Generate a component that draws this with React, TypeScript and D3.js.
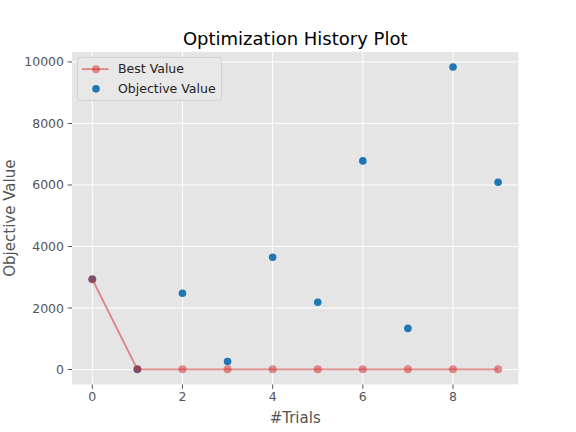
import { useEffect, useRef } from "react"
import * as d3 from "d3"

const trials = [0, 1, 2, 3, 4, 5, 6, 7, 8, 9]
const objectiveValues = [2935, 5, 2478, 260, 3650, 2185, 6782, 1337, 9837, 6088]
const bestValues = [2935, 5, 5, 5, 5, 5, 5, 5, 5, 5]
const xTicks = [0, 2, 4, 6, 8]
const yTicks = [0, 2000, 4000, 6000, 8000, 10000]

const width = 576
const height = 432
const margin = { left: 72, right: 57.6, top: 51.84, bottom: 47.52 }
const font = "'DejaVu Sans', sans-serif"

export default function App() {
  const svgRef = useRef<SVGSVGElement>(null)

  useEffect(() => {
    if (!svgRef.current) return
    const svg = d3.select(svgRef.current)
    svg.selectAll("*").remove()

    const x0 = margin.left
    const x1 = width - margin.right
    const y0 = height - margin.bottom
    const y1 = margin.top

    // matplotlib style 5% padding
    const xExt = d3.extent(trials) as [number, number]
    const xPad = (xExt[1] - xExt[0]) * 0.05
    const allY = objectiveValues.concat(bestValues)
    const yExt = d3.extent(allY) as [number, number]
    const yPad = (yExt[1] - yExt[0]) * 0.05

    const x = d3.scaleLinear().domain([xExt[0] - xPad, xExt[1] + xPad]).range([x0, x1])
    const y = d3.scaleLinear().domain([yExt[0] - yPad, yExt[1] + yPad]).range([y0, y1])

    svg.append("rect")
      .attr("width", width).attr("height", height).attr("fill", "white")

    svg.append("rect")
      .attr("x", x0).attr("y", y1)
      .attr("width", x1 - x0).attr("height", y0 - y1)
      .attr("fill", "#e5e5e5")

    // grid
    const grid = svg.append("g")
    grid.selectAll(".gx").data(xTicks).enter().append("line")
      .attr("x1", (d) => x(d)).attr("x2", (d) => x(d))
      .attr("y1", y1).attr("y2", y0)
      .attr("stroke", "white").attr("stroke-width", 1)
    grid.selectAll(".gy").data(yTicks).enter().append("line")
      .attr("x1", x0).attr("x2", x1)
      .attr("y1", (d) => y(d)).attr("y2", (d) => y(d))
      .attr("stroke", "white").attr("stroke-width", 1)

    // ticks
    const ticks = svg.append("g")
    xTicks.forEach((t) => {
      ticks.append("line")
        .attr("x1", x(t)).attr("x2", x(t))
        .attr("y1", y0).attr("y2", y0 + 4.4)
        .attr("stroke", "#555555").attr("stroke-width", 1)
      ticks.append("text")
        .attr("x", x(t)).attr("y", y0 + 17)
        .attr("text-anchor", "middle")
        .attr("font-family", font).attr("font-size", 12.5)
        .attr("fill", "#555555")
        .text(t)
    })
    yTicks.forEach((t) => {
      ticks.append("line")
        .attr("x1", x0 - 4.4).attr("x2", x0)
        .attr("y1", y(t)).attr("y2", y(t))
        .attr("stroke", "#555555").attr("stroke-width", 1)
      ticks.append("text")
        .attr("x", x0 - 8).attr("y", y(t) + 4.5)
        .attr("text-anchor", "end")
        .attr("font-family", font).attr("font-size", 12.5)
        .attr("fill", "#555555")
        .text(t)
    })

    // objective scatter
    svg.append("g").selectAll("circle")
      .data(trials).enter().append("circle")
      .attr("cx", (d) => x(d))
      .attr("cy", (d, i) => y(objectiveValues[i]))
      .attr("r", 3.8)
      .attr("fill", "#1f77b4")

    // best value line
    const line = d3.line<number>()
      .x((d) => x(d))
      .y((d, i) => y(bestValues[i]))
    const best = svg.append("g")
    best.append("path")
      .attr("d", line(trials) || "")
      .attr("fill", "none")
      .attr("stroke", "#d62728")
      .attr("stroke-opacity", 0.5)
      .attr("stroke-width", 1.9)
    best.selectAll("circle")
      .data(trials).enter().append("circle")
      .attr("cx", (d) => x(d))
      .attr("cy", (d, i) => y(bestValues[i]))
      .attr("r", 4)
      .attr("fill", "#d62728")
      .attr("fill-opacity", 0.5)

    // title + labels
    svg.append("text")
      .attr("x", (x0 + x1) / 2).attr("y", 45)
      .attr("text-anchor", "middle")
      .attr("font-family", font).attr("font-size", 18)
      .attr("fill", "black")
      .text("Optimization History Plot")
    svg.append("text")
      .attr("x", (x0 + x1) / 2).attr("y", 423)
      .attr("text-anchor", "middle")
      .attr("font-family", font).attr("font-size", 15)
      .attr("fill", "#555555")
      .text("#Trials")
    svg.append("text")
      .attr("transform", `translate(15, ${(y0 + y1) / 2}) rotate(-90)`)
      .attr("text-anchor", "middle")
      .attr("font-family", font).attr("font-size", 15)
      .attr("fill", "#555555")
      .text("Objective Value")

    // legend
    const lg = svg.append("g").attr("transform", `translate(${x0 + 5.5}, ${y1 + 5.5})`)
    lg.append("rect")
      .attr("width", 144).attr("height", 43)
      .attr("rx", 3)
      .attr("fill", "#e8e8e8")
      .attr("stroke", "#cccccc").attr("stroke-width", 0.8)
    lg.append("line")
      .attr("x1", 4.5).attr("x2", 31)
      .attr("y1", 11.8).attr("y2", 11.8)
      .attr("stroke", "#d62728").attr("stroke-opacity", 0.5).attr("stroke-width", 1.9)
    lg.append("circle")
      .attr("cx", 18.5).attr("cy", 11.8).attr("r", 4)
      .attr("fill", "#d62728").attr("fill-opacity", 0.5)
    lg.append("circle")
      .attr("cx", 18.5).attr("cy", 31.5).attr("r", 3.8)
      .attr("fill", "#1f77b4")
    lg.append("text")
      .attr("x", 40.5).attr("y", 16)
      .attr("font-family", font).attr("font-size", 12.5)
      .attr("fill", "#222222")
      .text("Best Value")
    lg.append("text")
      .attr("x", 40.5).attr("y", 35.5)
      .attr("font-family", font).attr("font-size", 12.5)
      .attr("fill", "#222222")
      .text("Objective Value")
  }, [])

  return (
    <div style={{ position: "absolute", left: 0, top: 0 }}>
      <svg ref={svgRef} width={width} height={height} style={{ display: "block" }} />
    </div>
  )
}
